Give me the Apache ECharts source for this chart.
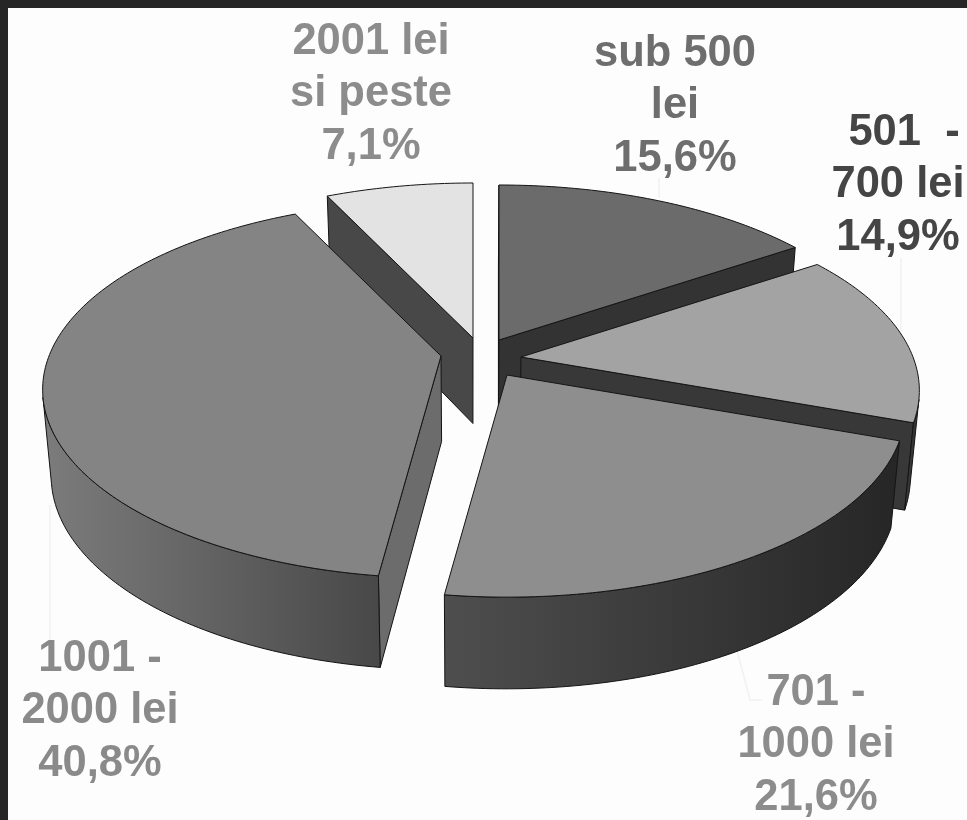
<!DOCTYPE html>
<html>
<head>
<meta charset="utf-8">
<style>html,body{margin:0;padding:0;background:#fdfdfd}#c{width:967px;height:820px}</style>
<script src="https://cdn.jsdelivr.net/npm/echarts@6/dist/echarts.min.js"></script>
</head>
<body>
<div id="c"></div>
<script>
// Values, clockwise from twelve o'clock
const categories = ['sub 500\nlei', ' 501  -\n700 lei', '701 -\n1000 lei', '1001 -\n2000 lei', '2001 lei\nsi peste'];
const percents = [15.6, 14.9, 21.6, 40.8, 7.1];

// Styling and layout, by slice
const topColors = ['#6b6b6b', '#a3a3a3', '#8e8e8e', '#848484', '#e3e3e3'];
const labelColors = ['#6e6e6e', '#454545', '#8c8c8c', '#8a8a8a', '#8c8c8c'];
const wallColors = ['#333333', '#383838', '#3c3c3c', '#6c6c6c', '#484848'];
const rimFrom = ['#333333', '#3a3a3a', '#4e4e4e', '#7c7c7c', '#484848'];
const rimTo = ['#333333', '#333333', '#262626', '#484848', '#484848'];
const apexes = [[499, 340], [521, 357], [507, 375], [441, 356], [473, 338]];
const labelCenters = [[675, 106], [898, 185], [816, 745], [100, 711], [371, 94]];
const leaders = [
  [[659, 178], [659, 198]],
  [[901, 258], [901, 332]],
  [[737, 650], [750, 700], [762, 700]],
  [[50, 505], [50, 650]],
  null
];
const drawOrder = [4, 0, 1, 3, 2];

const RX = 392, RY = 182.6, K = 0.178, VX = 470, SHRINK = 0.98;

function project(o, a) {
  const U = Math.sin(a), V = -Math.cos(a), s = 1 / (1 - K * V);
  return { x: o[0] + RX * U * s, y: o[1] + RY * V * s, s };
}
function under(p) {
  return [VX + (p.x - VX) * SHRINK, p.y + 57 + 28.5 * p.s];
}
function area(pts) {
  let t = 0;
  for (let i = 0; i < pts.length; i++) {
    const a = pts[i], b = pts[(i + 1) % pts.length];
    t += a[0] * b[1] - b[0] * a[1];
  }
  return t;
}
const fmt = v => v.toFixed(1).replace('.', ',') + '%';
const stroke = { stroke: '#141414', lineWidth: 1 };

function slice(i) {
  const start = percents.slice(0, i).reduce((s, v) => s + v, 0) / 100 * 2 * Math.PI;
  const end = start + percents[i] / 100 * 2 * Math.PI;
  const o = apexes[i];
  const steps = Math.max(8, Math.round((end - start) * 180 / Math.PI));
  const arc = [];
  for (let n = 0; n <= steps; n++) arc.push(project(o, start + (end - start) * n / steps));
  const apex = { x: o[0], y: o[1], s: 1 };
  const children = [];

  // Leader line
  if (leaders[i]) children.push({ type: 'polyline', shape: { points: leaders[i] }, style: { stroke: '#f1f1f1', lineWidth: 1.5, fill: null } });

  const quad = (a, b) => [[a.x, a.y], [b.x, b.y], under(b), under(a)];
  const wall = (a, b) => {
    const q = quad(a, b);
    if (area(q) < 0) children.push({ type: 'polygon', shape: { points: q }, style: { fill: wallColors[i], ...stroke } });
  };
  wall(apex, arc[0]);
  wall(arc[arc.length - 1], apex);

  // Outer wall: only the run of segments that face the viewer
  let lo = -1, hi = -1;
  for (let n = 0; n < arc.length - 1; n++) {
    if (area(quad(arc[n], arc[n + 1])) < 0) { if (lo < 0) lo = n; hi = n + 1; }
  }
  if (lo >= 0) {
    const run = arc.slice(lo, hi + 1);
    const pts = run.map(p => [p.x, p.y]).concat(run.slice().reverse().map(under));
    children.push({
      type: 'polygon', shape: { points: pts },
      style: {
        fill: new echarts.graphic.LinearGradient(0, 0, 1, 0, [
          { offset: 0, color: rimFrom[i] }, { offset: 1, color: rimTo[i] }
        ]), ...stroke
      }
    });
  }

  // Top face
  children.push({
    type: 'polygon',
    shape: { points: [[apex.x, apex.y]].concat(arc.map(p => [p.x, p.y])) },
    style: { fill: topColors[i], ...stroke }
  });

  // Label
  children.push({
    type: 'text', z2: 10,
    style: {
      x: labelCenters[i][0], y: labelCenters[i][1],
      text: categories[i] + '\n' + fmt(percents[i]),
      align: 'center', verticalAlign: 'middle',
      font: 'bold 43.5px "Liberation Sans", Arial, sans-serif',
      lineHeight: 52.5, fill: labelColors[i]
    }
  });
  return { type: 'group', children };
}

const chart = echarts.init(document.getElementById('c'), null, { renderer: 'canvas' });
chart.setOption({
  animation: false,
  backgroundColor: '#fdfdfd',
  graphic: [
    { type: 'rect', shape: { x: 0, y: 0, width: 967, height: 8 }, style: { fill: '#262626' }, silent: true },
    { type: 'rect', shape: { x: 0, y: 0, width: 8, height: 820 }, style: { fill: '#262626' }, silent: true }
  ],
  series: [{
    type: 'custom',
    coordinateSystem: 'none',
    silent: true,
    data: drawOrder.map(i => percents[i]),
    renderItem: params => slice(drawOrder[params.dataIndex])
  }]
});
</script>
</body>
</html>
